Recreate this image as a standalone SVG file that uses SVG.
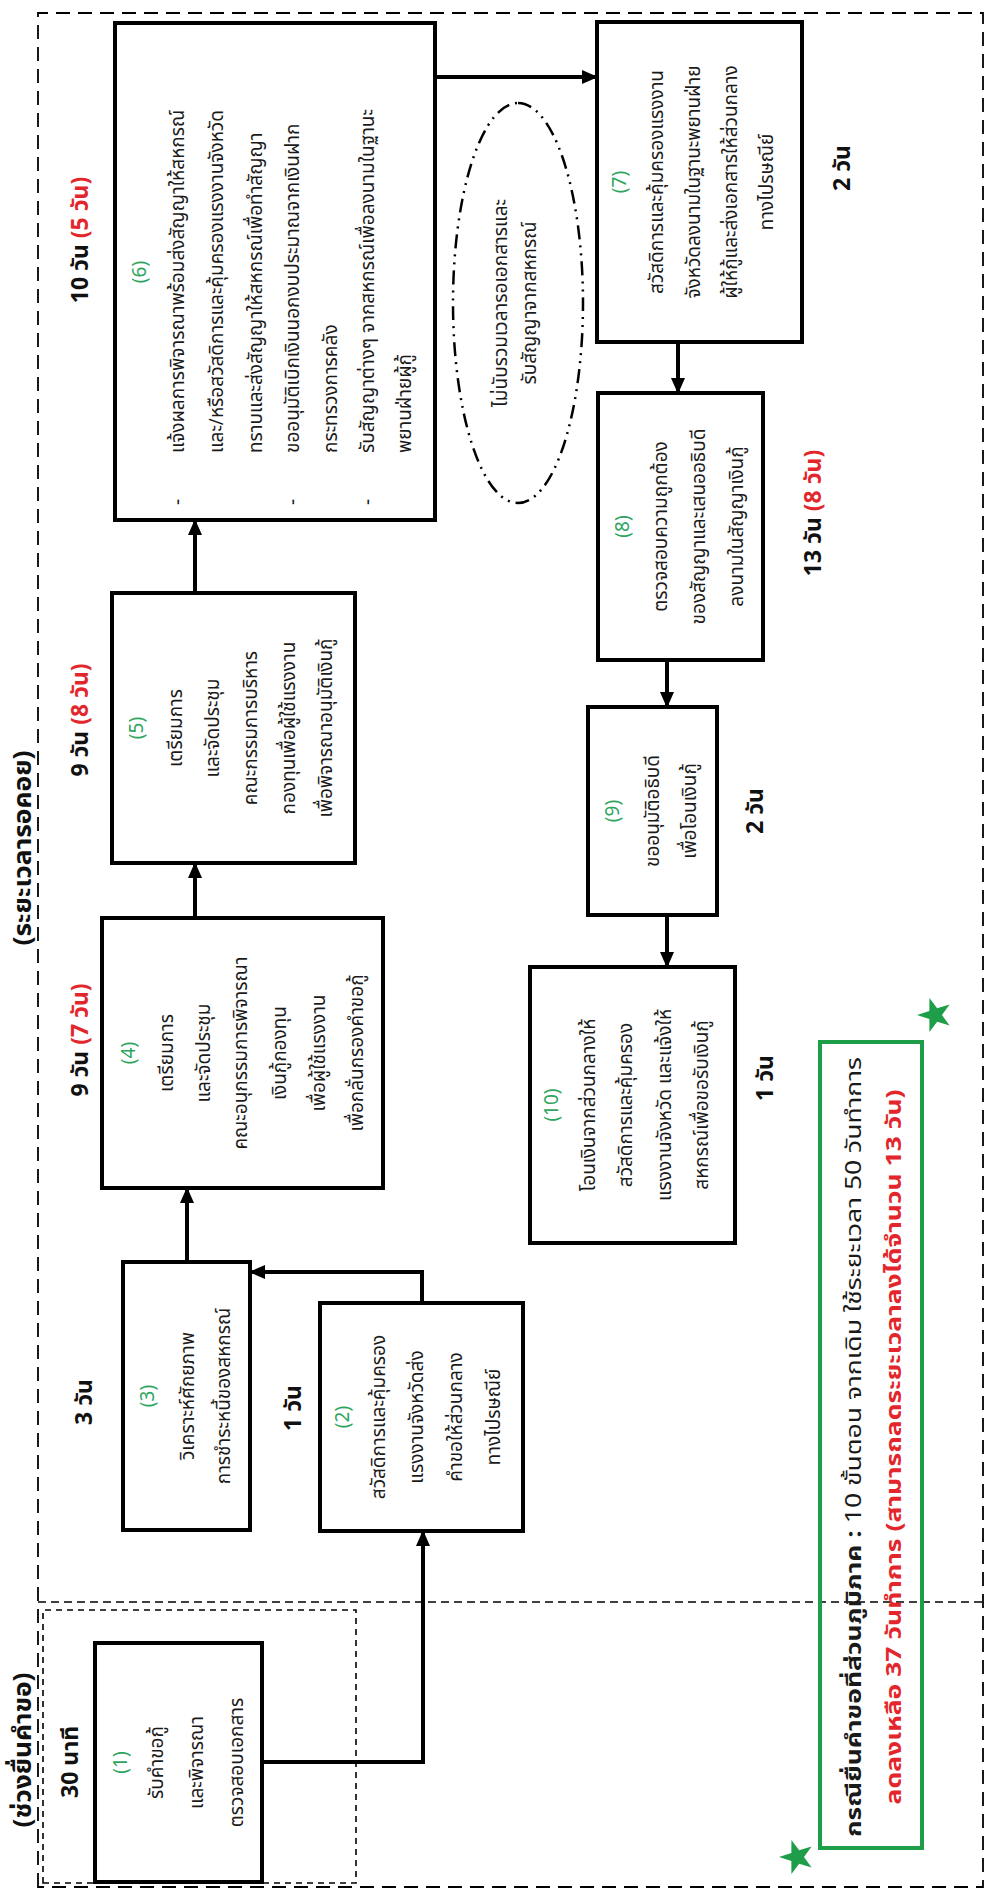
<svg xmlns="http://www.w3.org/2000/svg" width="985" height="1888" viewBox="0 0 985 1888">
<style>
.box{fill:#fff;stroke:#000;stroke-width:4}
.t{font-family:'Noto Sans Thai','Noto Sans','DejaVu Sans',sans-serif;font-size:19px;fill:#1a1a1a;text-anchor:middle}
.l{text-anchor:start}
.n{fill:#2ea55e}
.d{font-family:'Noto Sans Thai','Noto Sans','DejaVu Sans',sans-serif;font-size:23px;font-weight:bold;fill:#111;text-anchor:middle}
.h{font-size:25px}
.r{fill:#e3262c}
.conn{stroke:#000;stroke-width:4;fill:none}
.star{fill:#1f9e49}
</style>
<defs>
<marker id="ah" markerUnits="userSpaceOnUse" markerWidth="16" markerHeight="16" viewBox="0 0 16 16" refX="15" refY="8" orient="auto">
<path d="M0,1 L16,8 L0,15 Z" fill="#000"/>
</marker>
</defs>
<g transform="translate(0,1888) rotate(-90)">
<rect id="bg" x="-10" y="-10" width="1910" height="1010" fill="#fff"/>
<g id="frames" fill="none" stroke="#000">
<rect x="1" y="38" width="1874" height="945" stroke-width="1.8" stroke-dasharray="14 8"/>
<line x1="286" y1="38" x2="286" y2="983" stroke-width="1.6" stroke-dasharray="8 5"/>
<rect x="5" y="43" width="273" height="313" stroke-width="1.6" stroke-dasharray="6 5"/>
<ellipse cx="1585" cy="518" rx="200" ry="65" stroke-width="2.5" stroke-dasharray="14 6 2 6 2 6"/>
</g>
<g id="headers">
<text class="d h" x="1040" y="31" textLength="195" lengthAdjust="spacingAndGlyphs">(ระยะเวลารอคอย)</text>
<text class="d h" x="138" y="31" textLength="155" lengthAdjust="spacingAndGlyphs">(ช่วงยื่นคำขอ)</text>
</g>
<g id="connectors">
<path class="conn" d="M126,262 V423 H357" marker-end="url(#ah)"/>
<path class="conn" d="M585,422 H616 V250" marker-end="url(#ah)"/>
<path class="conn" d="M626,187 H700" marker-end="url(#ah)"/>
<path class="conn" d="M970,195 H1025" marker-end="url(#ah)"/>
<path class="conn" d="M1295,195 H1368" marker-end="url(#ah)"/>
<path class="conn" d="M1811,435 V597" marker-end="url(#ah)"/>
<path class="conn" d="M1546,678 H1495" marker-end="url(#ah)"/>
<path class="conn" d="M1228,667 H1181" marker-end="url(#ah)"/>
<path class="conn" d="M973,667 H921" marker-end="url(#ah)"/>
</g>
<g id="node-1">
<rect class="box" x="6" y="95" width="239" height="167"/>
<text class="t n" x="125.5" y="127">(1)</text>
<text class="t" x="125.5" y="163">รับคำขอกู้</text>
<text class="t" x="125.5" y="203">และพิจารณา</text>
<text class="t" x="125.5" y="243">ตรวจสอบเอกสาร</text>
</g>
<g id="node-2">
<rect class="box" x="357" y="320" width="228" height="203"/>
<text class="t n" x="471" y="349">(2)</text>
<text class="t" x="471" y="385">สวัสดิการและคุ้มครอง</text>
<text class="t" x="471" y="423">แรงงานจังหวัดส่ง</text>
<text class="t" x="471" y="462">คำขอให้ส่วนกลาง</text>
<text class="t" x="471" y="500">ทางไปรษณีย์</text>
</g>
<g id="node-3">
<rect class="box" x="358" y="123" width="268" height="127"/>
<text class="t n" x="492" y="154">(3)</text>
<text class="t" x="492" y="194">วิเคราะห์ศักยภาพ</text>
<text class="t" x="492" y="230">การชำระหนี้ของสหกรณ์</text>
</g>
<g id="node-4">
<rect class="box" x="700" y="102" width="270" height="281"/>
<text class="t n" x="835" y="135">(4)</text>
<text class="t" x="835" y="173">เตรียมการ</text>
<text class="t" x="835" y="210">และจัดประชุม</text>
<text class="t" x="835" y="247">คณะอนุกรรมการพิจารณา</text>
<text class="t" x="835" y="286">เงินกู้กองทุน</text>
<text class="t" x="835" y="325">เพื่อผู้ใช้แรงงาน</text>
<text class="t" x="835" y="363">เพื่อกลั่นกรองคำขอกู้</text>
</g>
<g id="node-5">
<rect class="box" x="1025" y="112" width="270" height="243"/>
<text class="t n" x="1160" y="143">(5)</text>
<text class="t" x="1160" y="182">เตรียมการ</text>
<text class="t" x="1160" y="219">และจัดประชุม</text>
<text class="t" x="1160" y="257">คณะกรรมการบริหาร</text>
<text class="t" x="1160" y="295">กองทุนเพื่อผู้ใช้แรงงาน</text>
<text class="t" x="1160" y="332">เพื่อพิจารณาอนุมัติเงินกู้</text>
</g>
<g id="node-6">
<rect class="box" x="1368" y="115" width="497" height="320"/>
<text class="t n" x="1616" y="146">(6)</text>
<text class="t" x="1386" y="184">-</text>
<text class="t l" x="1435" y="184">แจ้งผลการพิจารณาพร้อมส่งสัญญาให้สหกรณ์</text>
<text class="t l" x="1435" y="223">และ/หรือสวัสดิการและคุ้มครองแรงงานจังหวัด</text>
<text class="t l" x="1435" y="262">ทราบและส่งสัญญาให้สหกรณ์เพื่อทำสัญญา</text>
<text class="t" x="1386" y="299">-</text>
<text class="t l" x="1435" y="299">ขออนุมัติเบิกเงินนอกงบประมาณจากเงินฝาก</text>
<text class="t l" x="1435" y="337">กระทรวงการคลัง</text>
<text class="t" x="1386" y="374">-</text>
<text class="t l" x="1435" y="374">รับสัญญาต่างๆ จากสหกรณ์เพื่อลงนามในฐานะ</text>
<text class="t l" x="1435" y="411">พยานฝ่ายผู้กู้</text>
</g>
<g id="node-7">
<rect class="box" x="1546" y="597" width="320" height="205"/>
<text class="t n" x="1706" y="626">(7)</text>
<text class="t" x="1706" y="663">สวัสดิการและคุ้มครองแรงงาน</text>
<text class="t" x="1706" y="700">จังหวัดลงนามในฐานะพยานฝ่าย</text>
<text class="t" x="1706" y="737">ผู้ให้กู้และส่งเอกสารให้ส่วนกลาง</text>
<text class="t" x="1706" y="773">ทางไปรษณีย์</text>
</g>
<g id="node-8">
<rect class="box" x="1228" y="598" width="267" height="165"/>
<text class="t n" x="1361.5" y="629">(8)</text>
<text class="t" x="1361.5" y="667">ตรวจสอบความถูกต้อง</text>
<text class="t" x="1361.5" y="705">ของสัญญาและเสนออธิบดี</text>
<text class="t" x="1361.5" y="743">ลงนามในสัญญาเงินกู้</text>
</g>
<g id="node-9">
<rect class="box" x="973" y="588" width="208" height="129"/>
<text class="t n" x="1077" y="619">(9)</text>
<text class="t" x="1077" y="659">ขออนุมัติอธิบดี</text>
<text class="t" x="1077" y="696">เพื่อโอนเงินกู้</text>
</g>
<g id="node-10">
<rect class="box" x="645" y="530" width="276" height="205"/>
<text class="t n" x="783" y="558">(10)</text>
<text class="t" x="783" y="595">โอนเงินจากส่วนกลางให้</text>
<text class="t" x="783" y="632">สวัสดิการและคุ้มครอง</text>
<text class="t" x="783" y="671">แรงงานจังหวัด และแจ้งให้</text>
<text class="t" x="783" y="708">สหกรณ์เพื่อขอรับเงินกู้</text>
</g>
<g id="note">
<text class="t" x="1585" y="507">ไม่นับรวมเวลารอเอกสารและ</text>
<text class="t" x="1585" y="536">รับสัญญาจากสหกรณ์</text>
</g>
<g id="durations">
<text class="d" x="126" y="78">30 นาที</text>
<text class="d" x="486" y="92">3 วัน</text>
<text class="d" x="480" y="301">1 วัน</text>
<text class="d" x="848" y="88">9 วัน <tspan class="r">(7 วัน)</tspan></text>
<text class="d" x="1168" y="88">9 วัน <tspan class="r">(8 วัน)</tspan></text>
<text class="d" x="1648" y="88">10 วัน <tspan class="r">(5 วัน)</tspan></text>
<text class="d" x="1720" y="850">2 วัน</text>
<text class="d" x="1375" y="821">13 วัน <tspan class="r">(8 วัน)</tspan></text>
<text class="d" x="1077" y="763">2 วัน</text>
<text class="d" x="810" y="773">1 วัน</text>
</g>
<g id="summary">
<rect x="40" y="820" width="806" height="102" fill="none" stroke="#1f9e49" stroke-width="4"/>
<text class="t" x="441" y="861" style="font-size:21px" textLength="780" lengthAdjust="spacingAndGlyphs"><tspan font-weight="bold">กรณียื่นคำขอที่ส่วนภูมิภาค :</tspan> 10 ขั้นตอน จากเดิม ใช้ระยะเวลา 50 วันทำการ</text>
<text class="t r" x="441" y="901" style="font-size:21px;font-weight:bold" textLength="715" lengthAdjust="spacingAndGlyphs">ลดลงเหลือ 37 วันทำการ (สามารถลดระยะเวลาลงได้จำนวน 13 วัน)</text>
<path class="star" transform="translate(31,797)" d="M0,-18 L4.11,-5.66 L17.12,-5.56 L6.66,2.16 L10.58,14.56 L0,7 L-10.58,14.56 L-6.66,2.16 L-17.12,-5.56 L-4.11,-5.66 Z"/>
<path class="star" transform="translate(873,935)" d="M0,-18 L4.11,-5.66 L17.12,-5.56 L6.66,2.16 L10.58,14.56 L0,7 L-10.58,14.56 L-6.66,2.16 L-17.12,-5.56 L-4.11,-5.66 Z"/>
</g>
</g>
</svg>
